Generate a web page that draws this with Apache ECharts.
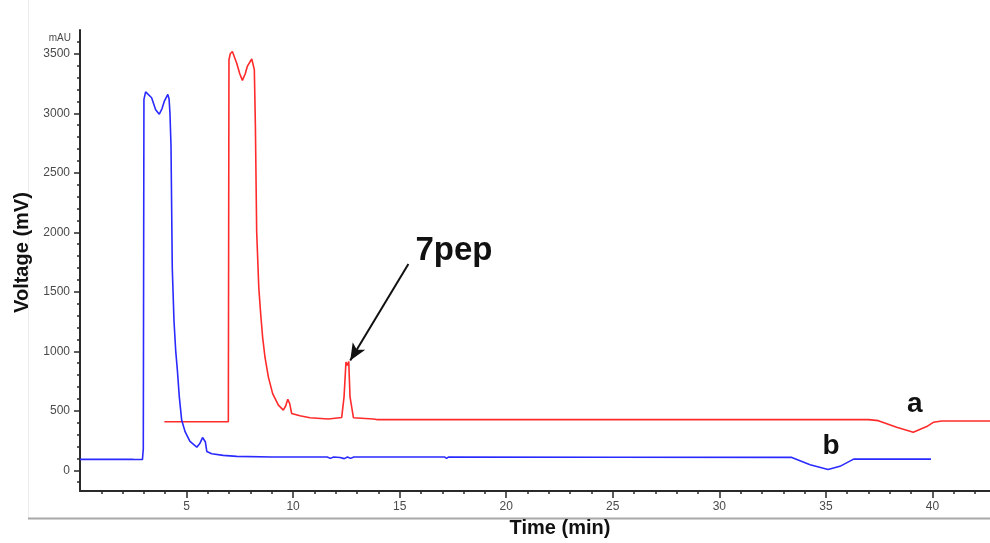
<!DOCTYPE html>
<html>
<head>
<meta charset="utf-8">
<script src="https://cdn.jsdelivr.net/npm/echarts@6/dist/echarts.min.js"></script>
<style>
  html, body { margin: 0; padding: 0; background: #ffffff; }
  #chart { width: 990px; height: 543px; }
</style>
</head>
<body>
<div id="chart"></div>
<script>
// Trace a: retention time (min) and detector response (mV)
const timeA = [3.96, 6.96, 6.99, 7.05, 7.15, 7.35, 7.5, 7.62, 7.75, 7.85, 8.06, 8.18, 8.23, 8.29,
  8.39, 8.48, 8.57, 8.68, 8.84, 9.04, 9.31, 9.54, 9.65, 9.75, 9.84, 9.93, 10.32, 10.79, 11.65,
  12.28, 12.39, 12.48, 12.55, 12.61, 12.67, 12.83, 13.76, 13.92, 37.0, 37.03, 37.46, 38.32,
  39.1, 39.73, 40.04, 40.44, 42.7];
const voltA = [408, 408, 3450, 3500, 3519, 3422, 3330, 3277, 3330, 3394, 3456, 3367, 2894, 2006,
  1533, 1311, 1117, 950, 783, 644, 547, 506, 540, 597, 560, 478, 458, 442, 431,
  444, 617, 910, 880, 915, 617, 442, 431, 426, 426, 432, 417, 361,
  319, 367, 403, 414, 414];

// Trace b: retention time (min) and detector response (mV)
const timeB = [0, 2.45, 2.5, 2.55, 2.93, 2.97, 3.0, 3.08, 3.16, 3.36, 3.55, 3.72, 3.85, 3.96,
  4.12, 4.18, 4.22, 4.27, 4.33, 4.41, 4.49, 4.57, 4.66, 4.77, 4.93, 5.16, 5.48, 5.63, 5.75,
  5.82, 5.88, 5.95, 6.18, 6.72, 7.35, 9.0, 11.6, 11.75, 11.9, 12.2, 12.4, 12.55, 12.7, 12.85,
  17.1, 17.2, 17.3, 25.0, 33.4, 34.26, 35.1, 35.66, 36.3, 39.93];
const voltB = [92, 92, 102, 90, 90, 180, 3117, 3180, 3194, 3131, 3030, 2992, 3040, 3103,
  3158, 3120, 3006, 2728, 1700, 1256, 1006, 839, 617, 422, 325, 242, 194, 228, 275,
  283, 240, 158, 139, 125, 117, 112, 112, 100, 112, 108, 98, 112, 100, 112,
  112, 100, 112, 110, 108, 47, 6, 33, 94, 94];

// Axis tick labels
const xTickLabels = [5, 10, 15, 20, 25, 30, 35, 40];
const yTickLabels = [0, 500, 1000, 1500, 2000, 2500, 3000, 3500];

// Peak callout and trace labels
const arrowFrom = [15.41, 1733];
const arrowTo = [12.68, 922];
const noteText = ['7pep', 'a', 'b'];
const noteTime = [17.55, 39.17, 35.24];
const noteVolt = [1842, 558, 200];

// Minor ticks: every minute and every 100 mV
const xMinor = [];
for (let t = 1; t <= 42; t++) xMinor.push(t);
const yMinor = [];
for (let v = -100; v <= 3600; v += 100) yMinor.push(v);

const tickFont = "'Liberation Sans Narrow', 'Arial Narrow', 'Liberation Sans', Arial, sans-serif";
const titleFont = "'Liberation Sans', Arial, sans-serif";
const axisColor = '#2a2a2a';
const X_MAX = 42.7, Y_MIN = -175, Y_MAX = 3700;

const pairs = (ts, vs) => ts.map((t, i) => [t, vs[i]]);
const plain = v => String(v);

const chart = echarts.init(document.getElementById('chart'), null, { renderer: 'canvas' });

chart.setOption({
  animation: false,
  backgroundColor: '#ffffff',
  grid: { left: 80, right: 0, top: 30, bottom: 48, containLabel: false },
  xAxis: [
    {
      type: 'value', min: 0, max: X_MAX, position: 'bottom',
      axisLine: { show: true, onZero: false, lineStyle: { color: axisColor, width: 2 } },
      axisTick: { show: true, customValues: xTickLabels, length: 7, lineStyle: { color: axisColor, width: 1.5 } },
      axisLabel: { customValues: xTickLabels, formatter: plain, margin: 10, fontSize: 12, color: '#4a4a4a', fontFamily: tickFont },
      splitLine: { show: false },
      name: 'Time (min)', nameLocation: 'middle', nameGap: 25,
      nameTextStyle: { fontSize: 20, fontWeight: 'bold', color: '#111', fontFamily: titleFont, padding: [0, 0, 0, 50] }
    },
    {
      type: 'value', min: 0, max: X_MAX, position: 'bottom',
      axisLine: { show: false, onZero: false },
      axisTick: { show: true, customValues: xMinor, length: 3, lineStyle: { color: axisColor, width: 1.5 } },
      axisLabel: { show: false },
      splitLine: { show: false }
    }
  ],
  yAxis: [
    {
      type: 'value', min: Y_MIN, max: Y_MAX, position: 'left',
      axisLine: { show: true, onZero: false, lineStyle: { color: axisColor, width: 2 } },
      axisTick: { show: true, customValues: yTickLabels, length: 6, lineStyle: { color: axisColor, width: 1.5 } },
      axisLabel: { customValues: yTickLabels, formatter: plain, margin: 10, fontSize: 12, color: '#4a4a4a', fontFamily: tickFont },
      splitLine: { show: false },
      name: 'Voltage (mV)', nameLocation: 'middle', nameGap: 46,
      nameTextStyle: { fontSize: 20, fontWeight: 'bold', color: '#111', fontFamily: titleFont, padding: [0, 0, 0, 16] }
    },
    {
      type: 'value', min: Y_MIN, max: Y_MAX, position: 'left',
      axisLine: { show: false, onZero: false },
      axisTick: { show: true, customValues: yMinor, length: 3, lineStyle: { color: axisColor, width: 1.5 } },
      axisLabel: { show: false },
      splitLine: { show: false }
    }
  ],
  graphic: [
    { type: 'line', shape: { x1: 28.5, y1: 0, x2: 28.5, y2: 518 }, style: { stroke: '#ececec', lineWidth: 1 }, silent: true },
    { type: 'line', shape: { x1: 28, y1: 518.5, x2: 990, y2: 518.5 }, style: { stroke: '#a8a8a8', lineWidth: 2 }, silent: true },
    { type: 'text', x: 71, y: 38, style: { text: 'mAU', align: 'right', verticalAlign: 'middle', fontSize: 10, fill: '#4a4a4a', fontFamily: tickFont } }
  ],
  series: [
    {
      name: 'a', type: 'line', xAxisIndex: 0, yAxisIndex: 0,
      data: pairs(timeA, voltA),
      showSymbol: false, symbol: 'none', smooth: false,
      lineStyle: { color: '#ff2a2a', width: 1.6 },
      markLine: {
        silent: true, symbol: ['none', 'arrow'], symbolSize: [11, 17],
        lineStyle: { color: '#111', width: 2, type: 'solid' },
        label: { show: false },
        data: [[{ coord: arrowFrom }, { coord: arrowTo }]]
      },
      markPoint: {
        silent: true, symbol: 'circle', symbolSize: 0,
        label: { show: true, position: 'inside', formatter: '{b}', color: '#111', fontWeight: 'bold', fontFamily: titleFont },
        data: [
          { name: noteText[0], coord: [noteTime[0], noteVolt[0]], label: { fontSize: 33 } },
          { name: noteText[1], coord: [noteTime[1], noteVolt[1]], label: { fontSize: 28 } }
        ]
      },
      z: 2
    },
    {
      name: 'b', type: 'line', xAxisIndex: 0, yAxisIndex: 0,
      data: pairs(timeB, voltB),
      showSymbol: false, symbol: 'none', smooth: false,
      lineStyle: { color: '#2a2aff', width: 1.6 },
      markPoint: {
        silent: true, symbol: 'circle', symbolSize: 0,
        label: { show: true, position: 'inside', formatter: '{b}', color: '#111', fontWeight: 'bold', fontFamily: titleFont, fontSize: 28 },
        data: [
          { name: noteText[2], coord: [noteTime[2], noteVolt[2]] }
        ]
      },
      z: 3
    }
  ]
});
</script>
</body>
</html>
